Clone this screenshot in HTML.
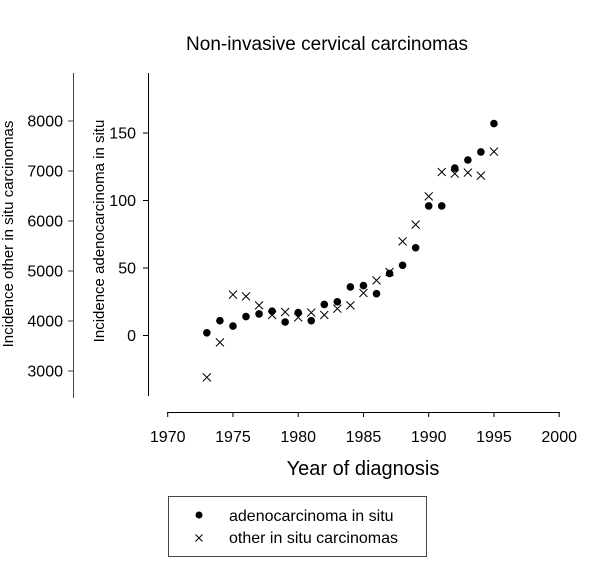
<!DOCTYPE html>
<html><head><meta charset="utf-8"><style>
body{margin:0;background:#fff;}
svg text{font-family:"Liberation Sans",Arial,sans-serif;fill:#000;}
</style></head><body>
<svg width="600" height="582" viewBox="0 0 600 582" id="chart">
<text x="327" y="50" font-size="19" text-anchor="middle">Non-invasive cervical carcinomas</text>
<g id="axes"></g>
<g id="marks"></g>
<text x="363" y="475" font-size="20" text-anchor="middle">Year of diagnosis</text>
<text transform="translate(104,231) rotate(-90)" font-size="15" text-anchor="middle">Incidence adenocarcinoma in situ</text>
<text transform="translate(13,234) rotate(-90)" font-size="15" text-anchor="middle">Incidence other in situ carcinomas</text>
<g>
<rect x="168.5" y="496.5" width="258" height="60" fill="none" stroke="#444" stroke-width="1"/>
<circle cx="199" cy="515" r="3.5" fill="#000"/>
<text x="229" y="521" font-size="16">adenocarcinoma in situ</text>
<path d="M195.5,534.5L202.5,541.5M195.5,541.5L202.5,534.5" stroke="#000"/>
<text x="229" y="543" font-size="16">other in situ carcinomas</text>
</g>
</svg>
<script>
const years=[1973,1974,1975,1976,1977,1978,1979,1980,1981,1982,1983,1984,1985,1986,1987,1988,1989,1990,1991,1992,1993,1994,1995];
const adeno=[2,11,7,14,16,18,10,17,11,23,25,36,37,31,46,52,65,96,96,124,130,136,157];
const other=[2873,3573,4527,4493,4313,4120,4180,4073,4167,4120,4247,4313,4560,4813,4980,5593,5927,6493,6980,6947,6967,6907,7387];
const xTicks=[1970,1975,1980,1985,1990,1995,2000];
const adenoTicks=[0,50,100,150];
const otherTicks=[3000,4000,5000,6000,7000,8000];
const NS='http://www.w3.org/2000/svg';
function X(v){return 167.7+(v-1970)*13.05;}
function YA(v){return 335.5-v*1.35;}
function YO(v){return 121+(8000-v)*0.05;}
function mk(tag,attrs,parent){const e=document.createElementNS(NS,tag);for(const k in attrs)e.setAttribute(k,attrs[k]);parent.appendChild(e);return e;}
const axes=document.getElementById('axes'),marks=document.getElementById('marks');
let l;
l=mk('line',{x1:167,y1:412.5,x2:560,y2:412.5,stroke:'#000'},axes);


xTicks.forEach(t=>{
 const x=X(t);
 let tk=mk('line',{x1:x,y1:412,x2:x,y2:417,stroke:'#000'},axes);
 
 
 let tx=mk('text',{x:x,y:442,'font-size':16,'text-anchor':'middle'},axes);tx.textContent=t;
 
 
});
l=mk('line',{x1:148.5,y1:73,x2:148.5,y2:396,stroke:'#000'},axes);


adenoTicks.forEach(t=>{
 const y=YA(t);
 let tk=mk('line',{x1:143,y1:y,x2:148,y2:y,stroke:'#000'},axes);
 
 
 let tx=mk('text',{x:136,y:y+5.5,'font-size':16,'text-anchor':'end'},axes);tx.textContent=t;
 
 
});
l=mk('line',{x1:73.5,y1:73,x2:73.5,y2:398,stroke:'#444'},axes);


otherTicks.forEach(t=>{
 const y=YO(t);
 let tk=mk('line',{x1:68,y1:y,x2:73,y2:y,stroke:'#444'},axes);
 
 
 let tx=mk('text',{x:63,y:y+5.5,'font-size':16,'text-anchor':'end'},axes);tx.textContent=t;
 
 
});
years.forEach((yr,i)=>{
 const x=X(yr);
 const yo=YO(other[i]);
 let p=mk('path',{d:`M${x-4},${yo-4}L${x+4},${yo+4}M${x-4},${yo+4}L${x+4},${yo-4}`,stroke:'#000','stroke-width':1},marks);
 
 
 let c=mk('circle',{cx:x,cy:YA(adeno[i]),r:3.8,fill:'#000'},marks);
 
 
});
</script>
</body></html>
